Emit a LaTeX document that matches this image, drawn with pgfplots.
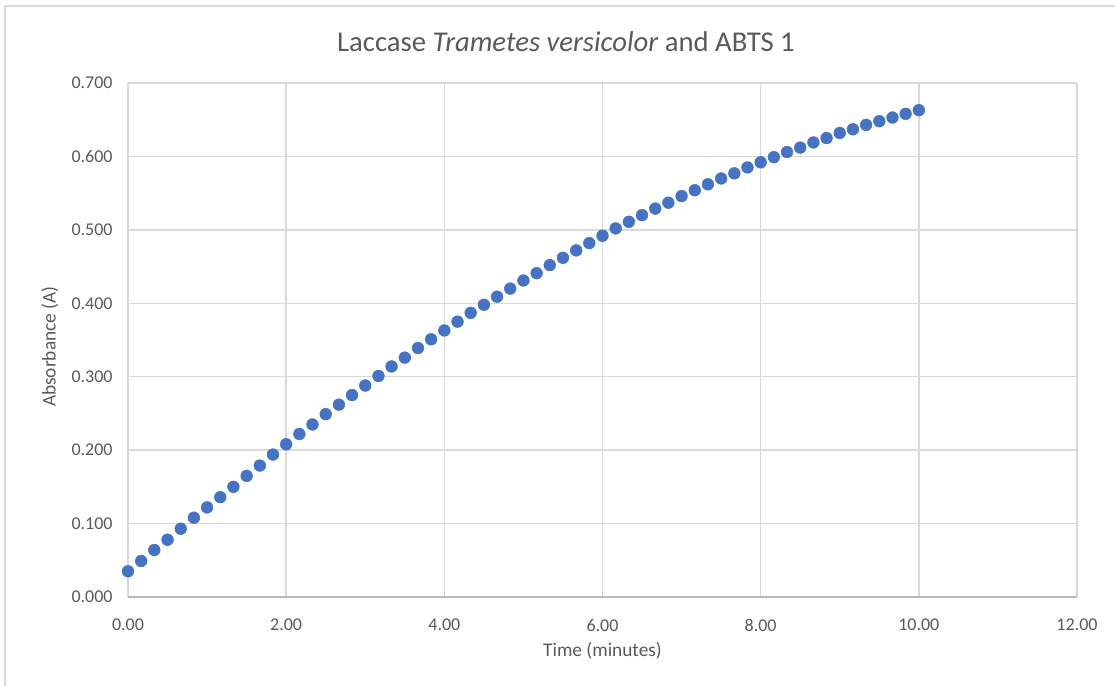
\documentclass[border=0pt]{standalone}
\usepackage{pgfplots}
\pgfplotsset{compat=1.18}
\usepackage{fontspec}
\setmainfont{Carlito}
\definecolor{excelblue}{HTML}{4472C4}
\definecolor{gridgray}{HTML}{D9D9D9}
\definecolor{txtgray}{HTML}{595959}

\begin{document}
\begin{tikzpicture}
% page size fixed first, so the frame below cannot widen it
\path[use as bounding box] (-96pt,-66.75pt) rectangle (740.25pt,447.75pt);
\begin{axis}[
  scale only axis,
  width=711.75pt, height=385.5pt,
  at={(0,0)}, anchor=south west,
  xmin=0, xmax=12, ymin=0, ymax=0.7,
  xtick={0,2,...,12}, ytick={0,0.1,...,0.7},
  grid=major, grid style={gridgray, line width=1pt},
  axis line style={draw=none},
  major tick length=0pt,
  /pgf/number format/assume math mode=true,
  x tick label style={/pgf/number format/fixed, /pgf/number format/fixed zerofill,
                      /pgf/number format/precision=2, yshift=-13pt},
  y tick label style={/pgf/number format/fixed, /pgf/number format/fixed zerofill,
                      /pgf/number format/precision=3, xshift=-8pt},
  tick label style={font=\fontsize{13.5}{16}\selectfont, text=txtgray},
  title={Laccase \textit{Trametes versicolor} and ABTS 1},
  title style={font=\fontsize{21.5}{25}\selectfont, text=txtgray,
               at={(axis description cs:0.4615,1)}, anchor=center, yshift=25pt},
  xlabel={Time (minutes)},
  ylabel={Absorbance (A)},
  label style={font=\fontsize{14.5}{17}\selectfont, text=txtgray},
  xlabel style={at={(axis description cs:0.5,0)}, anchor=center, yshift=-40.5pt},
  ylabel style={at={(axis description cs:0,0.5)}, anchor=center, yshift=58.5pt, xshift=-5pt},
  clip=false,
]
\addplot[only marks, mark=*, mark size=4.4pt,
         mark options={fill=excelblue, draw=excelblue}] table {
x y
0.000 0.035
0.167 0.049
0.333 0.064
0.500 0.078
0.667 0.093
0.833 0.108
1.000 0.122
1.167 0.136
1.333 0.150
1.500 0.165
1.667 0.179
1.833 0.194
2.000 0.208
2.167 0.222
2.333 0.235
2.500 0.249
2.667 0.262
2.833 0.275
3.000 0.288
3.167 0.301
3.333 0.314
3.500 0.326
3.667 0.339
3.833 0.351
4.000 0.363
4.167 0.375
4.333 0.387
4.500 0.398
4.667 0.409
4.833 0.420
5.000 0.431
5.167 0.441
5.333 0.452
5.500 0.462
5.667 0.472
5.833 0.482
6.000 0.492
6.167 0.502
6.333 0.511
6.500 0.520
6.667 0.529
6.833 0.537
7.000 0.546
7.167 0.554
7.333 0.562
7.500 0.570
7.667 0.577
7.833 0.585
8.000 0.592
8.167 0.599
8.333 0.606
8.500 0.612
8.667 0.619
8.833 0.625
9.000 0.632
9.167 0.637
9.333 0.643
9.500 0.648
9.667 0.653
9.833 0.658
10.000 0.663
};
\end{axis}
% x axis line, slightly darker than the grid
\draw[gray!55, line width=1pt] (0,0) -- (711.75pt,0);
% chart area frame
\draw[gridgray, line width=1pt] (-92.25pt,-70pt) -- (-92.25pt,443.25pt) -- (745pt,443.25pt);
\end{tikzpicture}
\end{document}
